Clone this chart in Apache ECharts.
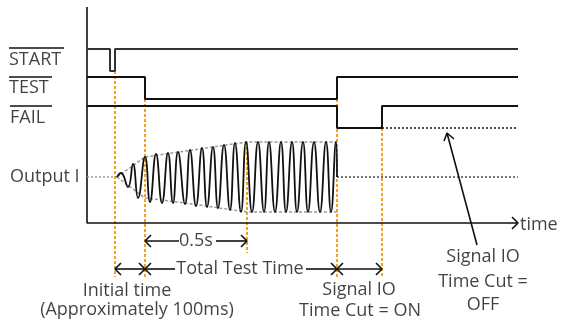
<!DOCTYPE html>
<html>
<head>
<meta charset="utf-8">
<script src="https://cdn.jsdelivr.net/npm/echarts@6/dist/echarts.min.js"></script>
<style>
  html, body { margin: 0; padding: 0; background: #fff; }
  #chart { width: 561px; height: 321px; }
</style>
</head>
<body>
<div id="chart"></div>
<script>
// time in ms (x), level in arbitrary units (y)
const startWave = [[0, 174], [115, 174], [115, 152], [140, 152], [140, 174], [2155, 174]];
const testWave = [[0, 146], [290, 146], [290, 124], [1250, 124], [1250, 146], [2155, 146]];
const failWave = [[0, 117], [1250, 117], [1250, 95], [1475, 95], [1475, 117], [2155, 117]];
const failOffLevel = [[1475, 95], [2155, 95]];

const outputIdle = [[0, 46], [150, 46]];
const outputAfterCut = [[1250, 46], [2155, 46]];
const outputWave = [
  [150, 46], [170, 50], [205, 36], [230, 59], [255, 25], [290, 66], [315, 21], [345, 69],
  [375, 20], [405, 70], [430, 20], [455, 71], [490, 19], [515, 73], [545, 17], [575, 75],
  [600, 16], [630, 76], [655, 15], [685, 78], [715, 13], [740, 80], [770, 11], [795, 81],
  [825, 11], [855, 81], [885, 11], [910, 81], [940, 11], [970, 81], [995, 11], [1025, 81],
  [1050, 11], [1080, 81], [1105, 11], [1135, 81], [1165, 11], [1195, 81], [1220, 11],
  [1245, 81], [1250, 46]
];
const envelopeTop = [[150, 46], [290, 66], [800, 81], [1250, 81]];
const envelopeBottom = [[150, 46], [290, 25], [490, 20], [800, 11], [1250, 11]];

// orange marker lines: [time, from, to]
const markers = [[140, 152, -54], [290, 124, -54], [800, 81, -30], [1250, 124, -54], [1475, 95, -54]];

// dimension arrows: [from, to, level, gap start, gap end]
const spans = [
  [290, 800, -18, 460, 645],
  [140, 290, -46, null, null],
  [290, 1250, -46, 440, 1095],
  [1250, 1475, -46, null, null]
];

const texts = [
  [-390, 163, 'START', 'left'],
  [-390, 135, 'TEST', 'left'],
  [-385, 105, 'FAIL', 'left'],
  [-385, 46, 'Output I', 'left'],
  [2165, -2, 'time', 'left'],
  [545, -18, '0.5s', 'center'],
  [765, -46, 'Total Test Time', 'center'],
  [200, -68, 'Initial time', 'center'],
  [250, -87, '(Approximately 100ms)', 'center'],
  [1360, -67, 'Signal IO', 'center'],
  [1365, -88, 'Time Cut = ON', 'center'],
  [1980, -34, 'Signal IO', 'center'],
  [1980, -59, 'Time Cut =', 'center'],
  [1980, -82, 'OFF', 'center']
];

const overlines = [[-390, -115, 175], [-390, -175, 146], [-385, -175, 117]];
const pointer = [[1950, -22], [1800, 90]];
const pointerHead = [[1785, 82], [1800, 90], [1835, 84]];

var myChart = echarts.init(document.getElementById('chart'));

function line(data, color, width, type, smooth) {
  return {
    type: 'line', data: data, symbol: 'none', silent: true, smooth: smooth || false,
    lineStyle: { color: color, width: width, type: type || 'solid', cap: 'butt' }
  };
}

// chevron arm offsets: 6px back (x 5ms/px), 6px aside
function chevron(t, y, dir) {
  return [[t - dir * 30, y + 6], [t, y], [t - dir * 30, y - 6]];
}

var series = [];

// orange dotted markers first (behind)
markers.forEach(function (m) {
  series.push(line([[m[0], m[1]], [m[0], m[2]]], '#f5a11c', 2, [3, 2]));
});

// axes
series.push(line([[0, 216], [0, 0], [2155, 0]], '#111', 1.6));
series.push(line(chevron(2155, 0, 1), '#111', 1.6));

// signals
series.push(line(startWave, '#333', 2));
series.push(line(testWave, '#111', 2));
series.push(line(failWave, '#111', 2));
series.push(line(failOffLevel, '#111', 1.6, [2, 2]));
overlines.forEach(function (o) {
  series.push(line([[o[0], o[2]], [o[1], o[2]]], '#111', 1.5));
});

// output current
series.push(line(outputIdle, '#999', 1.5, [2, 2]));
series.push(line(envelopeTop, '#999', 1.5, [3, 2]));
series.push(line(envelopeBottom, '#999', 1.5, [3, 2]));
series.push(line(outputAfterCut, '#555', 1.6, [2, 2]));
series.push(line(outputWave, '#111', 1.8, 'solid', 0.5));

// dimension arrows
spans.forEach(function (s) {
  if (s[3] == null) {
    series.push(line([[s[0], s[2]], [s[1], s[2]]], '#111', 1.6));
  } else {
    series.push(line([[s[0], s[2]], [s[3], s[2]]], '#111', 1.6));
    series.push(line([[s[4], s[2]], [s[1], s[2]]], '#111', 1.6));
  }
  series.push(line(chevron(s[0], s[2], -1), '#111', 1.6));
  series.push(line(chevron(s[1], s[2], 1), '#111', 1.6));
});

// pointer to the cut-off level
series.push(line(pointer, '#111', 1.6));
series.push(line(pointerHead, '#111', 1.6));

// texts
series.push({
  type: 'scatter', symbolSize: 0, silent: true, clip: false,
  data: texts.map(function (t) {
    return {
      value: [t[0], t[1]],
      label: {
        show: true,
        formatter: t[2],
        position: t[3] === 'left' ? 'right' : 'inside',
        distance: 0,
        align: t[3],
        verticalAlign: 'middle',
        color: '#111',
        fontSize: 18,
        fontFamily: 'Open Sans'
      }
    };
  })
});

var option = {
  animation: false,
  grid: { left: 0, right: 0, top: 0, bottom: 0 },
  xAxis: { type: 'value', min: -435, max: 2370, show: false },
  yAxis: { type: 'value', min: -98, max: 223, show: false },
  series: series
};

myChart.setOption(option);
</script>
</body>
</html>
